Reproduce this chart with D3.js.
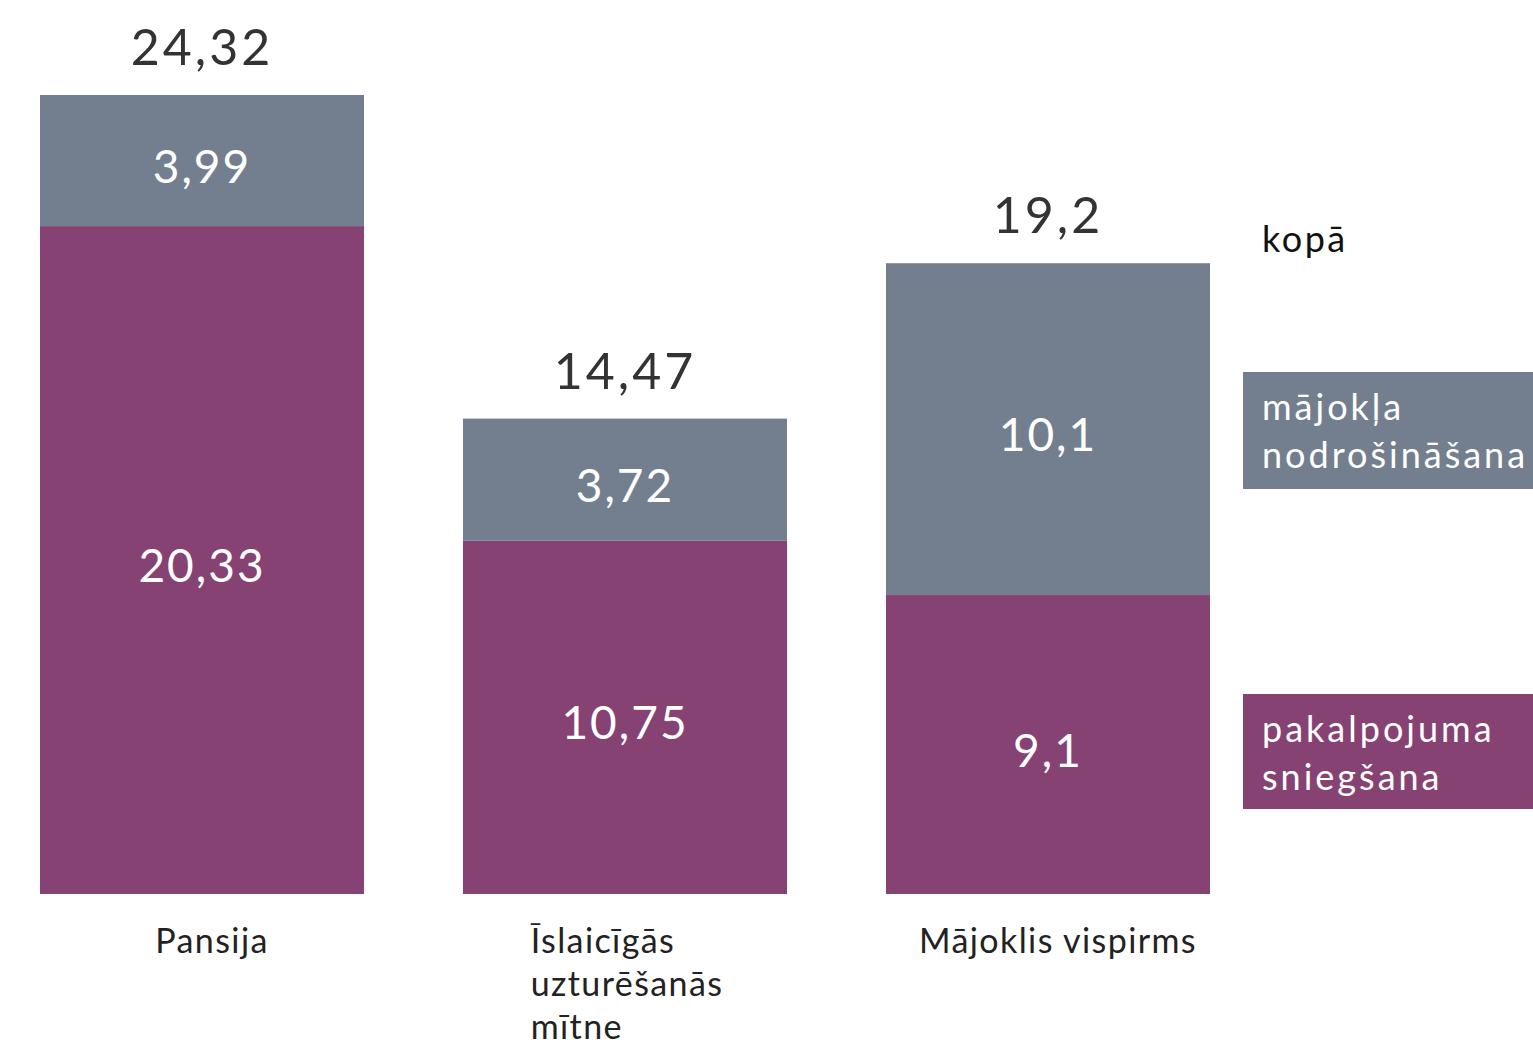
<!DOCTYPE html>
<html>
<head>
<meta charset="utf-8">
<script src="https://cdn.jsdelivr.net/npm/d3@7"></script>
<style>
  html, body { margin: 0; padding: 0; background: #fff; overflow: hidden; }
  text { font-family: Lato, "Open Sans", sans-serif; }
</style>
</head>
<body>
<div class="canvas"></div>
<script>
const categories = ['Pansija', 'Īslaicīgās uzturēšanās mītne', 'Mājoklis vispirms'];
const categoryLines = [['Pansija'], ['Īslaicīgās', 'uzturēšanās', 'mītne'], ['Mājoklis vispirms']];
const service = [20.33, 10.75, 9.1];
const housing = [3.99, 3.72, 10.1];
const totals = [24.32, 14.47, 19.2];
const seriesKeys = ['service', 'housing'];
const legendLabels = {
  total: 'kopā',
  housing: ['mājokļa', 'nodrošināšana'],
  service: ['pakalpojuma', 'sniegšana']
};

const width = 1533, height = 1040;
const colors = { service: '#874274', housing: '#737f8f' };
const fmt = (v) => String(v).replace('.', ',');

const svg = d3.select('.canvas').append('svg')
  .attr('width', width).attr('height', height);

// scales
const x = d3.scaleBand()
  .domain(categories)
  .range([40, 1210])
  .paddingInner(99 / 423)
  .paddingOuter(0);

const y = d3.scaleLinear()
  .domain([0, 24.32])
  .range([894, 95]);

// stacked data
const rows = categories.map((c, i) => ({ cat: c, service: service[i], housing: housing[i], total: totals[i] }));
const stacked = d3.stack().keys(seriesKeys)(rows);

const layers = svg.selectAll('g.layer')
  .data(stacked)
  .join('g')
  .attr('class', 'layer')
  .attr('fill', (d) => colors[d.key]);

layers.selectAll('rect')
  .data((d) => d)
  .join('rect')
  .attr('x', (d) => x(d.data.cat))
  .attr('width', x.bandwidth())
  .attr('y', (d) => y(d[1]))
  .attr('height', (d) => y(d[0]) - y(d[1]));

// segment values
layers.each(function (layer) {
  d3.select(this).selectAll('text')
    .data(layer)
    .join('text')
    .attr('x', (d) => x(d.data.cat) + x.bandwidth() / 2)
    .attr('y', (d) => (y(d[0]) + y(d[1])) / 2 + 22)
    .attr('text-anchor', 'middle')
    .attr('fill', '#fff')
    .attr('font-size', 46)
    .attr('letter-spacing', 2)
    .text((d) => fmt(d.data[layer.key]));
});

// totals
svg.selectAll('text.total')
  .data(rows)
  .join('text')
  .attr('class', 'total')
  .attr('x', (d) => x(d.cat) + x.bandwidth() / 2)
  .attr('y', (d) => y(d.total) - 30)
  .attr('text-anchor', 'middle')
  .attr('fill', '#333')
  .attr('font-size', 50)
  .attr('letter-spacing', 3)
  .text((d) => fmt(d.total));

// category labels
const catG = svg.selectAll('g.cat')
  .data(categories)
  .join('g')
  .attr('class', 'cat')
  .attr('transform', (d) => `translate(${x(d) + x.bandwidth() / 2 + 10},953)`);

catG.each(function (d, i) {
  const g = d3.select(this);
  const lines = categoryLines[i];
  const t = g.append('text')
    .attr('fill', '#222')
    .attr('font-size', 34)
    .attr('letter-spacing', 1.4)
    .attr('text-anchor', lines.length > 1 ? 'start' : 'middle');
  t.selectAll('tspan')
    .data(lines)
    .join('tspan')
    .attr('x', 0)
    .attr('dy', (l, j) => (j === 0 ? 0 : 43))
    .text((l) => l);
  if (lines.length > 1) {
    const w = t.node().getBBox().width;
    t.attr('transform', `translate(${-w / 2 - 8},0)`);
  }
});

// legend
svg.append('text')
  .attr('x', 1262).attr('y', 252)
  .attr('fill', '#111').attr('font-size', 36)
  .attr('letter-spacing', 2.5)
  .text(legendLabels.total);

const legendItems = [
  { key: 'housing', top: 372, h: 117 },
  { key: 'service', top: 694, h: 115 }
];
const lg = svg.selectAll('g.legend')
  .data(legendItems)
  .join('g')
  .attr('class', 'legend')
  .attr('transform', (d) => `translate(1243,${d.top})`);

lg.append('rect')
  .attr('width', 300)
  .attr('height', (d) => d.h)
  .attr('fill', (d) => colors[d.key]);

lg.append('text')
  .attr('fill', '#fff')
  .attr('font-size', 36)
  .attr('letter-spacing', 3)
  .selectAll('tspan')
  .data((d) => legendLabels[d.key])
  .join('tspan')
  .attr('x', 19)
  .attr('y', (l, j) => 48 + j * 48)
  .text((l) => l);
</script>
</body>
</html>
